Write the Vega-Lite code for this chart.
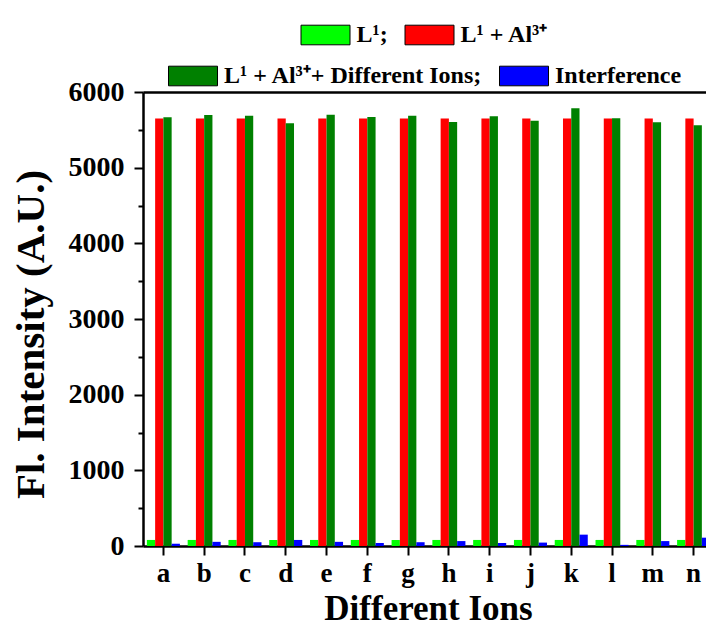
{
  "$schema": "https://vega.github.io/schema/vega-lite/v6.json",
  "width": 563,
  "height": 454,
  "autosize": {"type": "none"},
  "padding": {"left": 143, "top": 92, "right": 0, "bottom": 87},
  "data": {
    "values": [
      {"ion": "a", "series": "L¹;", "value": 80},
      {"ion": "a", "series": "L¹ + Al³⁺", "value": 5650},
      {"ion": "a", "series": "L¹ + Al³⁺+ Different Ions;", "value": 5665},
      {"ion": "a", "series": "Interference", "value": 30},
      {"ion": "b", "series": "L¹;", "value": 80},
      {"ion": "b", "series": "L¹ + Al³⁺", "value": 5650},
      {"ion": "b", "series": "L¹ + Al³⁺+ Different Ions;", "value": 5696},
      {"ion": "b", "series": "Interference", "value": 55},
      {"ion": "c", "series": "L¹;", "value": 80},
      {"ion": "c", "series": "L¹ + Al³⁺", "value": 5650},
      {"ion": "c", "series": "L¹ + Al³⁺+ Different Ions;", "value": 5687},
      {"ion": "c", "series": "Interference", "value": 50},
      {"ion": "d", "series": "L¹;", "value": 80},
      {"ion": "d", "series": "L¹ + Al³⁺", "value": 5650},
      {"ion": "d", "series": "L¹ + Al³⁺+ Different Ions;", "value": 5586},
      {"ion": "d", "series": "Interference", "value": 80},
      {"ion": "e", "series": "L¹;", "value": 80},
      {"ion": "e", "series": "L¹ + Al³⁺", "value": 5650},
      {"ion": "e", "series": "L¹ + Al³⁺+ Different Ions;", "value": 5700},
      {"ion": "e", "series": "Interference", "value": 55},
      {"ion": "f", "series": "L¹;", "value": 80},
      {"ion": "f", "series": "L¹ + Al³⁺", "value": 5650},
      {"ion": "f", "series": "L¹ + Al³⁺+ Different Ions;", "value": 5669},
      {"ion": "f", "series": "Interference", "value": 40},
      {"ion": "g", "series": "L¹;", "value": 80},
      {"ion": "g", "series": "L¹ + Al³⁺", "value": 5650},
      {"ion": "g", "series": "L¹ + Al³⁺+ Different Ions;", "value": 5687},
      {"ion": "g", "series": "Interference", "value": 50},
      {"ion": "h", "series": "L¹;", "value": 80},
      {"ion": "h", "series": "L¹ + Al³⁺", "value": 5650},
      {"ion": "h", "series": "L¹ + Al³⁺+ Different Ions;", "value": 5603},
      {"ion": "h", "series": "Interference", "value": 65},
      {"ion": "i", "series": "L¹;", "value": 80},
      {"ion": "i", "series": "L¹ + Al³⁺", "value": 5650},
      {"ion": "i", "series": "L¹ + Al³⁺+ Different Ions;", "value": 5678},
      {"ion": "i", "series": "Interference", "value": 40},
      {"ion": "j", "series": "L¹;", "value": 80},
      {"ion": "j", "series": "L¹ + Al³⁺", "value": 5650},
      {"ion": "j", "series": "L¹ + Al³⁺+ Different Ions;", "value": 5621},
      {"ion": "j", "series": "Interference", "value": 45},
      {"ion": "k", "series": "L¹;", "value": 80},
      {"ion": "k", "series": "L¹ + Al³⁺", "value": 5650},
      {"ion": "k", "series": "L¹ + Al³⁺+ Different Ions;", "value": 5784},
      {"ion": "k", "series": "Interference", "value": 150},
      {"ion": "l", "series": "L¹;", "value": 80},
      {"ion": "l", "series": "L¹ + Al³⁺", "value": 5650},
      {"ion": "l", "series": "L¹ + Al³⁺+ Different Ions;", "value": 5652},
      {"ion": "l", "series": "Interference", "value": 15},
      {"ion": "m", "series": "L¹;", "value": 80},
      {"ion": "m", "series": "L¹ + Al³⁺", "value": 5650},
      {"ion": "m", "series": "L¹ + Al³⁺+ Different Ions;", "value": 5599},
      {"ion": "m", "series": "Interference", "value": 65},
      {"ion": "n", "series": "L¹;", "value": 80},
      {"ion": "n", "series": "L¹ + Al³⁺", "value": 5650},
      {"ion": "n", "series": "L¹ + Al³⁺+ Different Ions;", "value": 5560},
      {"ion": "n", "series": "Interference", "value": 110}
    ]
  },
  "encoding": {
    "x": {
      "field": "ion", "type": "nominal", "title": "Different Ions",
      "scale": {"range": [0, 571], "paddingInner": 0.19, "paddingOuter": 0.095},
      "axis": {
        "labelAngle": 0, "labelFontSize": 27, "labelPadding": 5,
        "labelFont": "Liberation Serif", "labelFontWeight": "bold",
        "titleFont": "Liberation Serif", "titleFontWeight": "bold",
        "tickSize": 9, "tickWidth": 2, "domainWidth": 2.5,
        "titleFontSize": 35, "titlePadding": 5, "titleX": 285
      }
    },
    "xOffset": {
      "field": "series", "type": "nominal",
      "scale": {"domain": ["L¹;", "L¹ + Al³⁺", "L¹ + Al³⁺+ Different Ions;", "Interference"], "paddingInner": 0, "paddingOuter": 0}
    },
    "y": {
      "field": "value", "type": "quantitative", "title": "Fl. Intensity (A.U.)",
      "scale": {"domain": [0, 6000], "nice": false},
      "axis": {
        "values": [0, 500, 1000, 1500, 2000, 2500, 3000, 3500, 4000, 4500, 5000, 5500, 6000],
        "format": "d",
        "labelExpr": "datum.value % 1000 === 0 ? datum.label : ''",
        "tickSize": {"condition": {"test": "datum.value % 1000 !== 0", "value": 5}, "value": 9},
        "tickWidth": 2, "domainWidth": 2.5,
        "labelFont": "Liberation Serif", "labelFontWeight": "bold",
        "titleFont": "Liberation Serif", "titleFontWeight": "bold",
        "labelFontSize": 28, "labelPadding": 10,
        "titleFontSize": 41, "titlePadding": 16, "titleY": 242
      }
    }
  },
  "layer": [
    {
      "transform": [{"filter": {"field": "series", "oneOf": ["L¹;", "L¹ + Al³⁺"]}}],
      "mark": {"type": "bar"},
      "encoding": {
        "color": {
          "field": "series", "type": "nominal",
          "scale": {"domain": ["L¹;", "L¹ + Al³⁺"], "range": ["#00ff00", "#ff0000"]},
          "legend": {"orient": "top", "direction": "horizontal", "title": null, "labelFont": "Liberation Serif", "labelFontWeight": "bold", "labelFontSize": 24}
        }
      }
    },
    {
      "transform": [{"filter": {"field": "series", "oneOf": ["L¹ + Al³⁺+ Different Ions;", "Interference"]}}],
      "mark": {"type": "bar"},
      "encoding": {
        "x": {
          "field": "ion", "type": "nominal", "title": null,
          "scale": {"range": [0, 571], "paddingInner": 0.19, "paddingOuter": 0.095},
          "axis": {"orient": "top", "labels": false, "ticks": false, "title": null, "domainWidth": 2.5}
        },
        "color": {
          "field": "series", "type": "nominal",
          "scale": {"domain": ["L¹ + Al³⁺+ Different Ions;", "Interference"], "range": ["#008000", "#0000ff"]},
          "legend": {"orient": "top", "direction": "horizontal", "title": null, "labelFont": "Liberation Serif", "labelFontWeight": "bold", "labelFontSize": 24}
        }
      }
    }
  ],
  "resolve": {"scale": {"color": "independent"}, "axis": {"x": "independent"}},
  "config": {
    "view": {"stroke": null},
    "font": "Liberation Serif",
    "axis": {
      "domainColor": "black", "tickColor": "black", "labelColor": "black", "titleColor": "black",
      "labelFont": "Liberation Serif", "titleFont": "Liberation Serif",
      "labelFontWeight": "bold", "titleFontWeight": "bold", "grid": false
    },
    "legend": {
      "labelFont": "Liberation Serif", "labelFontWeight": "bold", "labelFontSize": 24, "labelColor": "black",
      "labelLimit": 600, "symbolType": "M-1,-0.4H1V0.4H-1Z", "symbolSize": 2401,
      "symbolStrokeColor": "black", "symbolStrokeWidth": 1, "symbolOpacity": 1,
      "labelOffset": 6, "columnPadding": 14, "offset": 4, "padding": 0,
      "layout": {"top": {"anchor": "middle", "direction": "vertical", "center": true, "margin": 4}}
    }
  }
}
